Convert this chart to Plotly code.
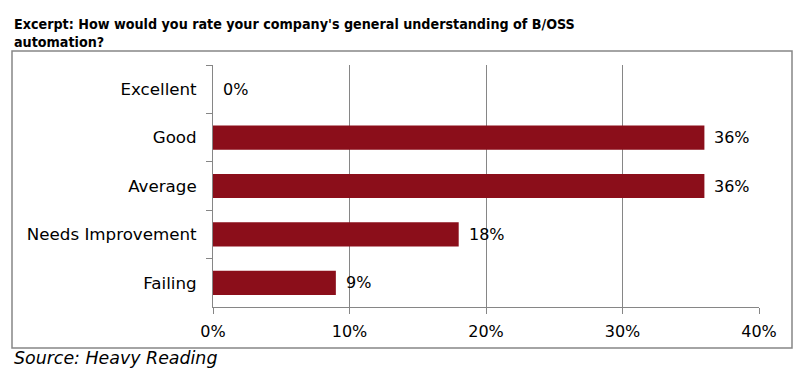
import plotly.graph_objects as go

categories = ["Excellent", "Good", "Average", "Needs Improvement", "Failing"]
values = [0.0, 0.36, 0.36, 0.18, 0.09]
value_labels = ["0%", "36%", "36%", "18%", "9%"]
tick_vals = [0, 0.1, 0.2, 0.3, 0.4]
tick_text = ["0%", "10%", "20%", "30%", "40%"]

title_lines = ["Excerpt: How would you rate your company's general understanding of B/OSS",
               "automation?"]
source_text = "Source: Heavy Reading"

FONT = "DejaVu Sans"
TFONT = "DejaVu Sans Condensed"
GRID = "#868686"

# page body has an 8px margin; figure is sized so that positions match the target
OFF = 8
W, H = 809 - OFF, 377 - OFF
PX0, PX1 = 213 - OFF, 759 - OFF   # plot area x (in figure px)
PY0, PY1 = 65 - OFF, 307 - OFF    # plot area y (top, bottom)
PW, PH = PX1 - PX0, PY1 - PY0


def px(x):
    return (x - OFF - PX0) / PW


def py(y):
    return (PY1 - (y - OFF)) / PH


fig = go.Figure(go.Bar(
    x=values, y=categories, orientation="h",
    marker=dict(color="#8B0E1A", line=dict(width=0)),
    width=0.5, hoverinfo="x+y",
))

for cat, v, lab in zip(categories, values, value_labels):
    fig.add_annotation(x=v, y=cat, xref="x", yref="y", text=lab, showarrow=False,
                       xanchor="left", yanchor="middle", xshift=8,
                       font=dict(family=FONT, size=16, color="black"))

fig.update_layout(
    width=W, height=H,
    margin=dict(l=PX0, r=W - PX1, t=PY0, b=H - PY1, pad=0),
    paper_bgcolor="white", plot_bgcolor="white",
    showlegend=False,
    font=dict(family=FONT, size=16, color="black"),
    xaxis=dict(
        range=[0, 0.4], tickvals=tick_vals, ticktext=tick_text,
        showgrid=True, gridcolor=GRID, gridwidth=1,
        showline=True, linecolor=GRID, linewidth=1,
        ticks="outside", ticklen=6, tickcolor=GRID,
        zeroline=False, ticklabelstandoff=4,
        tickfont=dict(family=FONT, size=16, color="black"),
    ),
    yaxis=dict(
        categoryorder="array", categoryarray=categories, autorange="reversed",
        showline=True, linecolor=GRID, linewidth=1,
        ticks="outside", ticklen=6, tickcolor=GRID, tickson="boundaries",
        showgrid=False, ticklabelstandoff=12,
        tickfont=dict(family=FONT, size=16.7, color="black"),
    ),
    bargap=0.5,
)

fig.add_shape(type="rect", xref="paper", yref="paper",
              x0=px(12), x1=px(792), y0=py(348), y1=py(51),
              line=dict(color=GRID, width=1.5), fillcolor="rgba(0,0,0,0)", layer="below")

fig.add_annotation(text="<br>".join("<b>" + t + "</b>" for t in title_lines),
                   xref="paper", yref="paper", x=px(12), y=py(14),
                   xanchor="left", yanchor="top", align="left", showarrow=False,
                   font=dict(family=TFONT, size=14.2, color="black"))

fig.add_annotation(text="<i>" + source_text + "</i>",
                   xref="paper", yref="paper", x=px(12), y=py(358),
                   xanchor="left", yanchor="middle", showarrow=False,
                   font=dict(family=FONT, size=17.4, color="black"))

fig.write_html("out.html")
